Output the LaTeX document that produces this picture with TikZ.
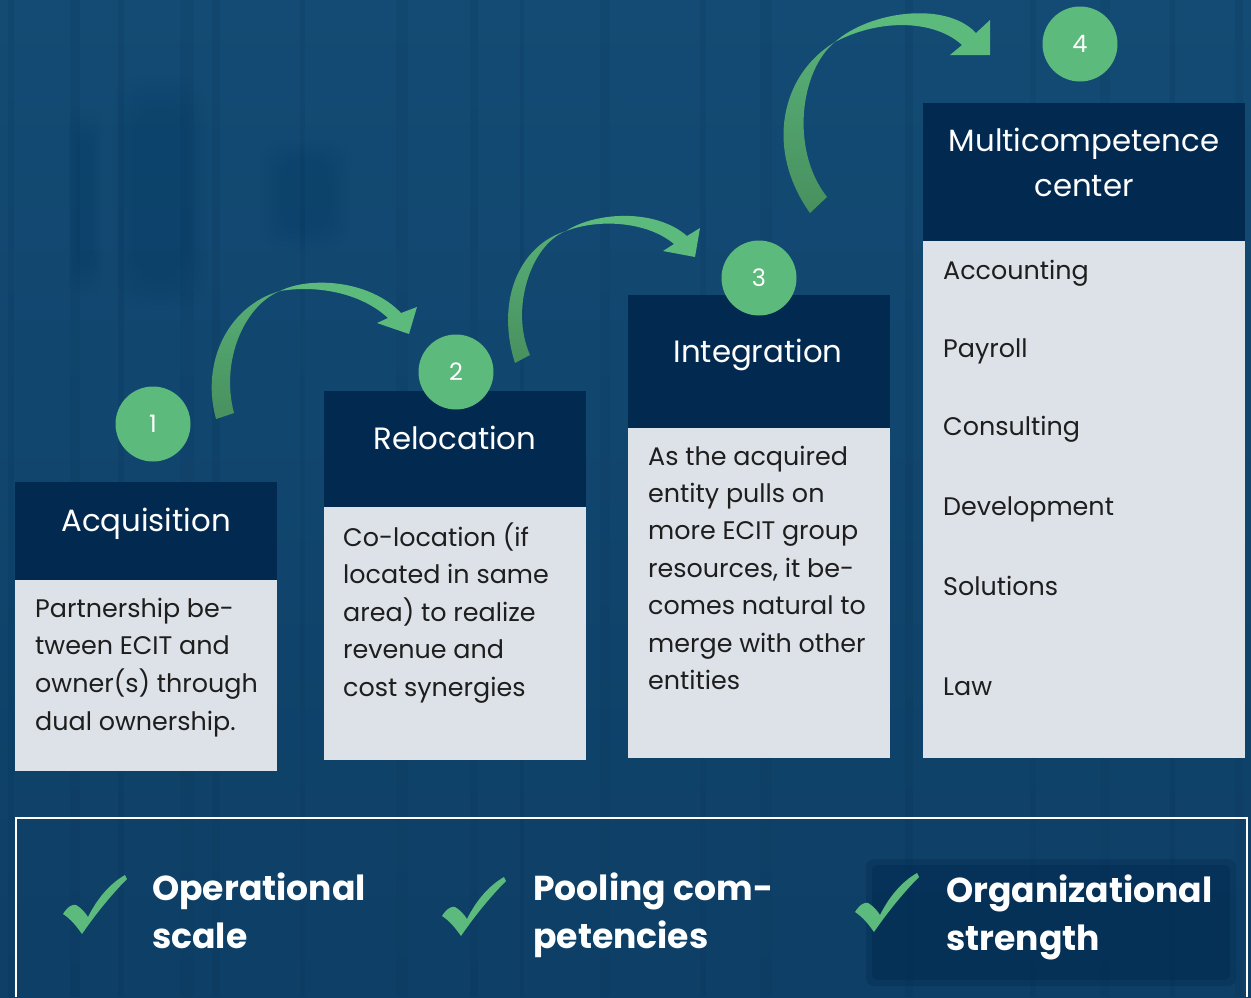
\documentclass[tikz,border=0pt]{standalone}
\usepackage{fontspec}
\setmainfont{Poppins}
\definecolor{bgtop}{HTML}{134B74}
\definecolor{bgbot}{HTML}{0E3F66}
\definecolor{stripe}{HTML}{062A4C}
\definecolor{navy}{HTML}{022A50}
\definecolor{panel}{HTML}{DDE1E8}
\definecolor{leaf}{HTML}{5CBA7C}
\definecolor{leafdark}{HTML}{48905F}
\definecolor{leafmid}{HTML}{57AE75}
\definecolor{ink}{HTML}{1E1E1E}
\tikzset{
  hdrbox/.style={fill=navy},
  bodybox/.style={fill=panel},
  hdrtext/.style={text=white, inner sep=0, anchor=base, font=\fontsize{30.8}{36}\selectfont},
  bodytext/.style={text=ink, inner sep=0, anchor=base west, font=\fontsize{25.4}{30}\selectfont},
  keytext/.style={text=white, inner sep=0, anchor=base west, font=\fontsize{34.6}{42}\selectfont\bfseries},
  stepdot/.style={circle, fill=leaf, minimum size=75pt, inner sep=0, text=white, font=\fontsize{24}{24}\selectfont},
  arrowback/.style={top color=leafmid, bottom color=leafdark},
  arrowfront/.style={fill=leaf},
  tick/.pic={
    \fill[leaf] (0,39) .. controls (5,31) and (10,29) .. (13,30)
      .. controls (17,32) and (22,37) .. (25,42)
      .. controls (35,22) and (48,8) .. (62,0) -- (64,4)
      .. controls (48,20) and (32,40) .. (19,59)
      .. controls (14,52) and (8,44) .. (0,39) -- cycle;
  }
}
\begin{document}
\begin{tikzpicture}[x=1pt, y=-1pt]
\useasboundingbox (0,0) rectangle (1251,997);

% backdrop with soft vertical stripes
\shade[top color=bgtop, bottom color=bgbot] (0,0) rectangle (1251,997);
\foreach \sx/\sw/\so in {8/6/0.12, 70/10/0.10, 118/6/0.14, 180/14/0.08, 212/8/0.12,
  300/5/0.10, 396/12/0.08, 470/8/0.10, 520/4/0.14, 600/10/0.08, 700/6/0.10,
  760/12/0.08, 905/8/0.14, 1030/6/0.10, 1100/10/0.08, 1170/5/0.14, 1235/8/0.10}
  \fill[stripe, opacity=\so] (\sx,0) rectangle ({\sx+\sw},997);
% faint blurred shapes in the upper left
\foreach \k in {0,...,5} {
  \fill[stripe, opacity=0.025, rounded corners=30pt] ({113+4*\k},{75+6*\k}) rectangle ({207-4*\k},{310-6*\k});
  \fill[stripe, opacity=0.02, rounded corners=12pt] ({68+2*\k},{110+6*\k}) rectangle ({102-2*\k},{295-6*\k});
  \fill[stripe, opacity=0.02, rounded corners=20pt] ({260+4*\k},{140+4*\k}) rectangle ({350-4*\k},{250-4*\k});
}

% step 1
\path[hdrbox] (15,482) rectangle (277,580);
\path[bodybox] (15,580) rectangle (277,771);
\node[hdrtext] (h1) at (146,531) {Acquisition};
\foreach \t [count=\i from 0] in {Partnership be-, tween ECIT and, owner(s) through, dual ownership.}
  \node[bodytext] (b1-\i) at (35,{617+37.7*\i}) {\t};

% step 2
\path[hdrbox] (324,391) rectangle (586,507);
\path[bodybox] (324,507) rectangle (586,760);
\node[hdrtext] (h2) at (455,449) {Relocation};
\foreach \t [count=\i from 0] in {Co-location (if, located in same, area) to realize, revenue and, cost synergies}
  \node[bodytext] (b2-\i) at (343,{546+37.6*\i}) {\t};

% step 3
\path[hdrbox] (628,295) rectangle (890,428);
\path[bodybox] (628,428) rectangle (890,758);
\node[hdrtext] (h3) at (758,362) {Integration};
\foreach \t [count=\i from 0] in {As the acquired, entity pulls on, more ECIT group, {resources, it be-}, comes natural to, merge with other, entities}
  \node[bodytext] (b3-\i) at (648,{465+37.4*\i}) {\t};

% step 4
\path[hdrbox] (923,103) rectangle (1245,241);
\path[bodybox] (923,241) rectangle (1245,758);
\node[hdrtext] (h4a) at (1084,151) {Multicompetence};
\node[hdrtext] (h4b) at (1084,196) {center};
\foreach \t/\yy in {Accounting/279, Payroll/357, Consulting/435, Development/515, Solutions/595, Law/695}
  \node[bodytext] (b4-\t) at (943,\yy) {\t};

% numbered dots
\node[stepdot] (c1) at (153,424) {1};
\node[stepdot] (c2) at (456,372) {2};
\node[stepdot] (c3) at (759,278) {3};
\node[stepdot] (c4) at (1080,44) {4};

% curved arrows between the steps
\path[arrowback] (216,419) .. controls (200,360) and (230,305) .. (280,291)
  .. controls (245,305) and (220,360) .. (234,413) -- cycle;
\path[arrowfront] (280,291) .. controls (310,276) and (370,280) .. (401,313)
  -- (417,307) -- (409,334) -- (377,323) -- (388,318)
  .. controls (360,292) and (315,285) .. (280,291) -- cycle;

\path[arrowback] (515,363) .. controls (495,300) and (520,245) .. (566,231)
  .. controls (530,245) and (510,310) .. (530,355) -- cycle;
\path[arrowfront] (566,231) .. controls (595,212) and (655,208) .. (687,236)
  -- (700,228) -- (695,257) -- (663,251) -- (674,244)
  .. controls (648,222) and (600,218) .. (566,231) -- cycle;

\path[arrowback] (810,213) .. controls (765,150) and (780,75) .. (835,42)
  .. controls (800,70) and (790,150) .. (827,197) -- cycle;
\path[arrowfront] (835,42) .. controls (868,12) and (945,0) .. (976,33)
  -- (990,20) -- (990,55) -- (950,55) -- (962,45)
  .. controls (935,20) and (880,18) .. (835,42) -- cycle;

% benefits panel
\draw[white, line width=1.2pt] (16,997) -- (16,818) -- (1247,818) -- (1247,997);
\fill[navy, opacity=0.35, rounded corners=8pt] (866,859) rectangle (1236,986);
\fill[navy, opacity=0.45, rounded corners=6pt] (872,865) rectangle (1230,980);
\pic at (63,875) {tick};
\pic at (442,877) {tick};
\pic at (855,873) {tick};
\node[keytext] (k1a) at (152,900) {Operational};
\node[keytext] (k1b) at (152,948) {scale};
\node[keytext] (k2a) at (533,900) {Pooling com-};
\node[keytext] (k2b) at (533,948) {petencies};
\node[keytext] (k3a) at (946,902) {Organizational};
\node[keytext] (k3b) at (946,950) {strength};
\end{tikzpicture}
\end{document}
